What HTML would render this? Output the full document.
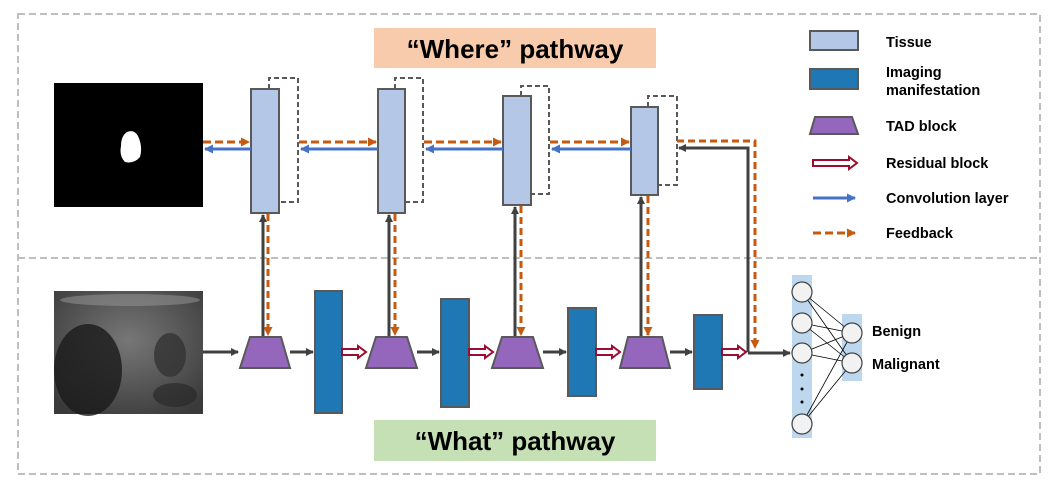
<!DOCTYPE html>
<html><head><meta charset="utf-8"><style>
html,body{margin:0;padding:0;background:#fff;}
svg{display:block;font-family:"Liberation Sans",Arial,sans-serif;}
</style></head><body>
<svg width="1058" height="491" viewBox="0 0 1058 491" xmlns="http://www.w3.org/2000/svg">
<defs>
<marker id="ad" markerWidth="8" markerHeight="8" refX="7" refY="4" orient="auto" markerUnits="userSpaceOnUse"><path d="M0,0 L8,4 L0,8 z" fill="#404040"/></marker>
<marker id="ao" markerWidth="9" markerHeight="9" refX="8" refY="4.5" orient="auto" markerUnits="userSpaceOnUse"><path d="M0,0 L9,4.5 L0,9 z" fill="#c55a11"/></marker>
<marker id="ab" markerWidth="9" markerHeight="9" refX="8" refY="4.5" orient="auto" markerUnits="userSpaceOnUse"><path d="M0,0 L9,4.5 L0,9 z" fill="#4472c4"/></marker>
<radialGradient id="us" cx="0.5" cy="0.4" r="0.7"><stop offset="0" stop-color="#777"/><stop offset="1" stop-color="#3a3a3a"/></radialGradient>
<g id="res"><path d="M0,-3 L16,-3 L16,-6 L24,0 L16,6 L16,3 L0,3 z" fill="#fff" stroke="#9b0d2e" stroke-width="2"/></g>
</defs>
<rect x="18" y="14" width="1022" height="460" fill="none" stroke="#bfbfbf" stroke-width="2" stroke-dasharray="7,4"/>
<line x1="18" y1="258" x2="1040" y2="258" stroke="#bfbfbf" stroke-width="2" stroke-dasharray="7,4"/>
<rect x="374" y="28" width="282" height="40" fill="#f8cbad"/>
<text x="515" y="58" font-size="26" font-weight="bold" text-anchor="middle" fill="#000">“Where” pathway</text>
<rect x="374" y="420" width="282" height="41" fill="#c5e0b4"/>
<text x="515" y="450" font-size="26" font-weight="bold" text-anchor="middle" fill="#000">“What” pathway</text>
<rect x="54" y="83" width="149" height="124" fill="#000"/>
<path d="M127,132 Q134,129 138,136 Q143,147 140,157 Q134,164 125,162 Q119,156 121,146 Q121,136 127,132z" fill="#fff"/>
<rect x="54" y="291" width="149" height="123" fill="url(#us)"/>
<ellipse cx="88" cy="370" rx="34" ry="46" fill="#1a1a1a" opacity="0.8"/>
<ellipse cx="170" cy="355" rx="16" ry="22" fill="#333" opacity="0.8"/>
<ellipse cx="130" cy="300" rx="70" ry="6" fill="#999" opacity="0.5"/>
<ellipse cx="175" cy="395" rx="22" ry="12" fill="#2a2a2a" opacity="0.7"/>
<g fill="none" stroke="#595959" stroke-width="2" stroke-dasharray="5,3">
<path d="M269,89 V78 H298 V202 H279"/>
<path d="M395,89 V78 H423 V202 H405"/>
<path d="M521,96 V86 H549 V194 H531"/>
<path d="M648,107 V96 H677 V185 H658"/>
</g>
<g fill="#b4c7e7" stroke="#595959" stroke-width="2">
<rect x="251" y="89" width="28" height="124"/>
<rect x="378" y="89" width="27" height="124"/>
<rect x="503" y="96" width="28" height="109"/>
<rect x="631" y="107" width="27" height="88"/>
</g>
<g stroke-width="3">
<line x1="203" y1="142" x2="249" y2="142" stroke="#c55a11" stroke-dasharray="8,4" marker-end="url(#ao)"/>
<line x1="251" y1="149" x2="205" y2="149" stroke="#4472c4" marker-end="url(#ab)"/>
<line x1="299" y1="142" x2="376" y2="142" stroke="#c55a11" stroke-dasharray="8,4" marker-end="url(#ao)"/>
<line x1="378" y1="149" x2="301" y2="149" stroke="#4472c4" marker-end="url(#ab)"/>
<line x1="424" y1="142" x2="501" y2="142" stroke="#c55a11" stroke-dasharray="8,4" marker-end="url(#ao)"/>
<line x1="503" y1="149" x2="426" y2="149" stroke="#4472c4" marker-end="url(#ab)"/>
<line x1="550" y1="142" x2="629" y2="142" stroke="#c55a11" stroke-dasharray="8,4" marker-end="url(#ao)"/>
<line x1="631" y1="149" x2="552" y2="149" stroke="#4472c4" marker-end="url(#ab)"/>
</g>
<g stroke-width="3" fill="none">
<line x1="263" y1="337" x2="263" y2="215" stroke="#404040" marker-end="url(#ad)"/>
<line x1="268" y1="214" x2="268" y2="335" stroke="#c55a11" stroke-dasharray="7,4" marker-end="url(#ao)"/>
<line x1="389" y1="337" x2="389" y2="215" stroke="#404040" marker-end="url(#ad)"/>
<line x1="395" y1="214" x2="395" y2="335" stroke="#c55a11" stroke-dasharray="7,4" marker-end="url(#ao)"/>
<line x1="515" y1="337" x2="515" y2="207" stroke="#404040" marker-end="url(#ad)"/>
<line x1="521" y1="206" x2="521" y2="335" stroke="#c55a11" stroke-dasharray="7,4" marker-end="url(#ao)"/>
<line x1="641" y1="337" x2="641" y2="197" stroke="#404040" marker-end="url(#ad)"/>
<line x1="648" y1="196" x2="648" y2="335" stroke="#c55a11" stroke-dasharray="7,4" marker-end="url(#ao)"/>
<path d="M748,352 V148 H679" stroke="#404040" marker-end="url(#ad)"/>
<path d="M677,141 H755 V348" stroke="#c55a11" stroke-dasharray="7,4" marker-end="url(#ao)"/>
</g>
<g fill="#9467bd" stroke="#595959" stroke-width="2">
<path d="M250,337 H281 L290,368 H240 z"/>
<path d="M376,337 H407 L417,368 H366 z"/>
<path d="M502,337 H533 L543,368 H492 z"/>
<path d="M628,337 H662 L670,368 H620 z"/>
</g>
<g fill="#1f77b4" stroke="#595959" stroke-width="2">
<rect x="315" y="291" width="27" height="122"/>
<rect x="441" y="299" width="28" height="108"/>
<rect x="568" y="308" width="28" height="88"/>
<rect x="694" y="315" width="28" height="74"/>
</g>
<g stroke="#404040" stroke-width="3">
<line x1="203" y1="352" x2="238" y2="352" marker-end="url(#ad)"/>
<line x1="290" y1="352" x2="313" y2="352" marker-end="url(#ad)"/>
<line x1="417" y1="352" x2="439" y2="352" marker-end="url(#ad)"/>
<line x1="543" y1="352" x2="566" y2="352" marker-end="url(#ad)"/>
<line x1="670" y1="352" x2="692" y2="352" marker-end="url(#ad)"/>
<line x1="748" y1="353" x2="790" y2="353" marker-end="url(#ad)"/>
</g>
<use href="#res" x="342" y="352"/>
<use href="#res" x="469" y="352"/>
<use href="#res" x="596" y="352"/>
<use href="#res" x="722" y="352"/>
<rect x="792" y="275" width="20" height="163" fill="#bdd7ee"/>
<rect x="842" y="314" width="20" height="67" fill="#bdd7ee"/>
<g stroke="#000" stroke-width="0.8">
<line x1="802" y1="292" x2="852" y2="333"/><line x1="802" y1="292" x2="852" y2="363"/>
<line x1="802" y1="323" x2="852" y2="333"/><line x1="802" y1="323" x2="852" y2="363"/>
<line x1="802" y1="353" x2="852" y2="333"/><line x1="802" y1="353" x2="852" y2="363"/>
<line x1="802" y1="424" x2="852" y2="333"/><line x1="802" y1="424" x2="852" y2="363"/>
</g>
<g fill="#f2f2f2" stroke="#404040" stroke-width="1.2">
<circle cx="802" cy="292" r="10"/><circle cx="802" cy="323" r="10"/><circle cx="802" cy="353" r="10"/><circle cx="802" cy="424" r="10"/>
<circle cx="852" cy="333" r="10"/><circle cx="852" cy="363" r="10"/>
</g>
<g fill="#000"><circle cx="802" cy="375" r="1.5"/><circle cx="802" cy="389" r="1.5"/><circle cx="802" cy="402" r="1.5"/></g>
<g font-size="14.5" font-weight="bold" fill="#000">
<text x="872" y="336">Benign</text>
<text x="872" y="369">Malignant</text>
</g>
<rect x="810" y="31" width="48" height="19" fill="#b4c7e7" stroke="#595959" stroke-width="2"/>
<rect x="810" y="69" width="48" height="20" fill="#1f77b4" stroke="#595959" stroke-width="2"/>
<path d="M815,117 H852 L858,134 H810 z" fill="#9467bd" stroke="#595959" stroke-width="2"/>
<path d="M813,160 L849,160 L849,157 L857,163 L849,169 L849,166 L813,166 z" fill="#fff" stroke="#9b0d2e" stroke-width="2"/>
<line x1="813" y1="198" x2="855" y2="198" stroke="#4472c4" stroke-width="3" marker-end="url(#ab)"/>
<line x1="813" y1="233" x2="855" y2="233" stroke="#c55a11" stroke-width="3" stroke-dasharray="8,4" marker-end="url(#ao)"/>
<g font-size="14.5" font-weight="bold" fill="#000">
<text x="886" y="47">Tissue</text>
<text x="886" y="77">Imaging</text>
<text x="886" y="95">manifestation</text>
<text x="886" y="131">TAD block</text>
<text x="886" y="168">Residual block</text>
<text x="886" y="203">Convolution layer</text>
<text x="886" y="238">Feedback</text>
</g>
</svg>
</body></html>
